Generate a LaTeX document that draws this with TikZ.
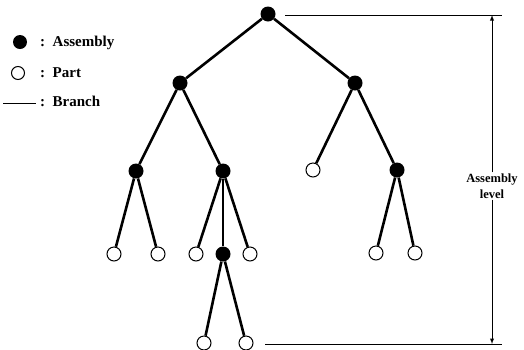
\documentclass[tikz,border=0pt]{standalone}
\usepackage{fontspec}
\setmainfont{Liberation Serif}
\usepackage{tikz}
\usetikzlibrary{arrows,positioning}

\tikzset{
  assy/.style={circle,fill=black,inner sep=0pt,minimum size=15pt},
  part/.style={circle,draw=black,fill=white,line width=1pt,inner sep=0pt,minimum size=14pt},
  branch/.style={line width=2.6pt},
  dimline/.style={line width=0.9pt},
  keytext/.style={anchor=base west,inner sep=0pt,font=\fontsize{15}{17}\selectfont\bfseries},
}

\begin{document}
\begin{tikzpicture}[x=1pt,y=-1pt]
    \useasboundingbox (0,0) rectangle (524,349);

    % Key
    \node[assy,minimum size=14pt] (keyA) at (20,42) {};
    \node[keytext] (keyAtxt) at (40,46) {:\, Assembly};
    \node[part,minimum size=13pt] (keyP) at (18,73) {};
    \node[keytext] (keyPtxt) at (40,77) {:\, Part};
    \coordinate (keyBa) at (3,103);
    \coordinate (keyBb) at (36,103);
    \draw[line width=1pt] (keyBa) -- (keyBb);
    \node[keytext] (keyBtxt) at (40,106) {:\, Branch};

    % Tree: assemblies and parts
    \node[assy] (r)    at (268,14)  {};
    \node[assy] (a)    at (180,83)  {};
    \node[assy] (b)    at (355,83)  {};
    \node[assy] (aa)   at (136,171) {};
    \node[assy] (ab)   at (223,171) {};
    \node[part] (ba)   at (313,170) {};
    \node[assy] (bb)   at (397,170) {};
    \node[part] (aa1)  at (114,254) {};
    \node[part] (aa2)  at (158,254) {};
    \node[part] (ab1)  at (196,254) {};
    \node[assy] (ab2)  at (223,254) {};
    \node[part] (ab3)  at (250,254) {};
    \node[part] (bb1)  at (376,253) {};
    \node[part] (bb2)  at (415,253) {};
    \node[part] (ab21) at (204,343) {};
    \node[part] (ab22) at (246,343) {};

    % Branches
    \draw[branch] (r) -- (a);
    \draw[branch] (r) -- (b);
    \draw[branch] (a) -- (aa);
    \draw[branch] (a) -- (ab);
    \draw[branch] (b) -- (ba);
    \draw[branch] (b) -- (bb);
    \draw[branch] (aa) -- (aa1);
    \draw[branch] (aa) -- (aa2);
    \draw[branch] (ab) -- (ab1);
    \draw[branch] (ab) -- (ab2);
    \draw[branch] (ab) -- (ab3);
    \draw[branch] (bb) -- (bb1);
    \draw[branch] (bb) -- (bb2);
    \draw[branch] (ab2) -- (ab21);
    \draw[branch] (ab2) -- (ab22);

    % Assembly level dimension
    \coordinate (topL) at (285,15);
    \coordinate (topR) at (502,15);
    \coordinate (botL) at (265,344);
    \coordinate (botR) at (502,344);
    \coordinate (topA) at (492,15);
    \coordinate (botA) at (492,344);
    \draw[dimline] (topL) -- (topR);
    \draw[dimline] (botL) -- (botR);
    \node[align=center,inner sep=1pt,font=\fontsize{12.5}{16}\selectfont\bfseries] (lvl) at (492,186) {Assembly\\level};
    \draw[dimline,-latex] (lvl) -- (topA);
    \draw[dimline,-latex] (lvl) -- (botA);
\end{tikzpicture}
\end{document}
